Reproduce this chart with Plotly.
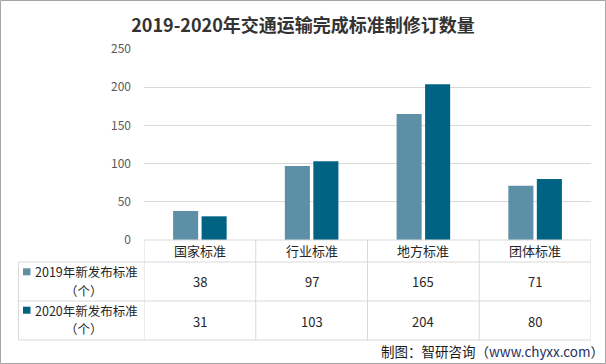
import plotly.graph_objects as go

categories = ["国家标准", "行业标准", "地方标准", "团体标准"]
series_names = ["2019年新发布标准", "2020年新发布标准"]
series_unit = "（个）"
values_2019 = [38, 97, 165, 71]
values_2020 = [31, 103, 204, 80]
y_ticks = [0, 50, 100, 150, 200, 250]

colors = ["#5D8FA7", "#006384"]
FONT = "Noto Sans CJK SC"

W, H = 606, 364
L, R, T, B = 144, 15, 49, 124
PW = W - L - R
PH = H - T - B


def py(p):  # pixel y -> paper y
    return (H - B - p) / PH


def px(p):  # pixel x -> paper x
    return (p - L) / PW


fig = go.Figure()
for name, vals, c in zip(series_names, [values_2019, values_2020], colors):
    fig.add_trace(go.Bar(
        x=list(range(len(categories))), y=vals, name=name + series_unit,
        marker=dict(color=c, line=dict(width=0)),
        showlegend=False,
    ))

shapes = []
ann = []
line_col = "#D9D9D9"
txt = dict(size=13, color="#262626", family=FONT)
# horizontal table lines
for p, x0 in [(240, L), (262, 18.5), (301, 18.5), (340, 18.5)]:
    shapes.append(dict(type="line", xref="paper", yref="paper",
                       x0=px(x0), x1=1, y0=py(p), y1=py(p),
                       line=dict(color=line_col, width=1)))
# vertical table lines at category boundaries
for i in range(len(categories) + 1):
    shapes.append(dict(type="line", xref="x", yref="paper",
                       x0=i - 0.5, x1=i - 0.5, y0=py(240), y1=py(340),
                       line=dict(color=line_col, width=1)))
shapes.append(dict(type="line", xref="paper", yref="paper",
                   x0=px(18.5), x1=px(18.5), y0=py(262), y1=py(340),
                   line=dict(color=line_col, width=1)))

# header labels
for i, c in enumerate(categories):
    ann.append(dict(x=i, y=py(251), xref="x", yref="paper", text=c,
                    xanchor="center", yanchor="middle",
                    showarrow=False, font=txt))
# values
for row_y, vals in [(281, values_2019), (321, values_2020)]:
    for i, v in enumerate(vals):
        ann.append(dict(x=i, y=py(row_y), xref="x", yref="paper", text=str(v),
                        xanchor="center", yanchor="middle",
                        showarrow=False, font=txt))
# row labels + legend keys
lab = dict(size=12.5, color="#262626", family=FONT)
for (l1, l2, name, c) in [(271.8, 290.4, series_names[0], colors[0]),
                          (310.2, 328.8, series_names[1], colors[1])]:
    ann.append(dict(x=px(86), y=py(l1), xref="paper", yref="paper", text=name,
                    xanchor="center", yanchor="middle",
                    showarrow=False, font=lab))
    ann.append(dict(x=px(84), y=py(l2), xref="paper", yref="paper", text=series_unit,
                    xanchor="center", yanchor="middle",
                    showarrow=False, font=lab))
    shapes.append(dict(type="rect", xref="paper", yref="paper",
                       x0=px(23), x1=px(30.5), y0=py(l1 + 3.5), y1=py(l1 - 3.5),
                       fillcolor=c, line=dict(width=0)))

# source
ann.append(dict(x=px(606), y=py(351), xref="paper", yref="paper",
                text="制图：智研咨询（<span style='color:#1F3060'>www.chyxx.com</span>）",
                xanchor="right", yanchor="middle",
                showarrow=False, font=dict(size=13.5, color="#1a1a1a", family=FONT)))

# outer border
shapes.append(dict(type="rect", xref="paper", yref="paper",
                   x0=px(0.5), x1=px(605.5), y0=py(363.5), y1=py(0.5),
                   line=dict(color="#A6A6A6", width=1)))

fig.update_layout(
    width=W, height=H,
    margin=dict(l=L, r=R, t=T, b=B),
    paper_bgcolor="white", plot_bgcolor="white",
    title=dict(text="<b>2019-2020年交通运输完成标准制修订数量</b>",
               x=0.5, xref="container", xanchor="center", y=1 - 26 / H, yanchor="middle",
               font=dict(size=18, color="#333333", family=FONT)),
    xaxis=dict(range=[-0.5, 3.5], showticklabels=False, showgrid=False,
               zeroline=False, showline=False, fixedrange=True),
    yaxis=dict(range=[0, 250], tickvals=y_ticks, showgrid=True,
               gridcolor="#D9D9D9", gridwidth=1, zeroline=False,
               ticks="", ticklabelstandoff=12,
               tickfont=dict(size=12, color="#595959", family=FONT)),
    barmode="group", bargap=0.49, bargroupgap=0.12,
    shapes=shapes, annotations=ann,
    font=dict(family=FONT),
)

fig.write_html("out.html", config={"displayModeBar": False},
               post_script="document.body.style.margin='0px';document.body.style.overflow='hidden';")
